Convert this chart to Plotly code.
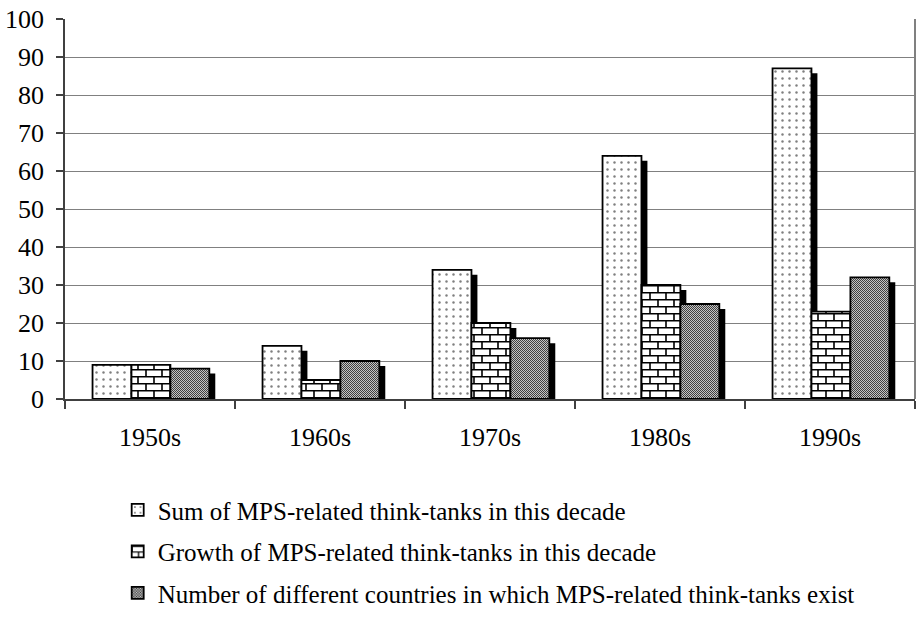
import plotly.graph_objects as go

# Decades on the category axis
decades = ["1950s", "1960s", "1970s", "1980s", "1990s"]

# Series values per decade
sum_tanks = [9, 14, 34, 64, 87]
growth_tanks = [9, 5, 20, 30, 23]
country_count = [8, 10, 16, 25, 32]

series_names = [
    "Sum of MPS-related think-tanks in this decade",
    "Growth of MPS-related think-tanks in this decade",
    "Number of different countries in which MPS-related think-tanks exist",
]
series_values = [sum_tanks, growth_tanks, country_count]

# Bar geometry (category units) and drop-shadow displacement
BAR_W = 0.229
OFFSETS = [-0.338, -0.109, 0.120]
SHADOW_DX = 0.035
SHADOW_DY = 1.3

# Marker colours #010101 / #020202 tag the fills that get custom textures below
PATTERNS = [
    dict(shape=".", fgcolor="#000000", bgcolor="white", size=7, solidity=0.1),
    dict(shape="+", fgcolor="#010101", bgcolor="white", size=8, solidity=0.25),
    dict(shape="x", fgcolor="#020202", bgcolor="white", size=3, solidity=0.5),
]

fig = go.Figure()

# Black drop shadows first so every bar sits above all shadows
for vals, off in zip(series_values, OFFSETS):
    fig.add_trace(go.Bar(
        x=decades, y=vals, base=-SHADOW_DY,
        width=BAR_W, offset=off + SHADOW_DX,
        marker=dict(color="black", line=dict(width=0)),
        showlegend=False, hoverinfo="skip",
    ))

for name, vals, off, pat in zip(series_names, series_values, OFFSETS, PATTERNS):
    fig.add_trace(go.Bar(
        x=decades, y=vals, name=name, legendgroup=name,
        width=BAR_W, offset=off,
        marker=dict(color="white", pattern=pat,
                    line=dict(color="black", width=1.8)),
    ))

axis_dark = "#404040"

fig.update_layout(
    width=919, height=620,
    margin=dict(l=65, r=4, t=19, b=210),
    paper_bgcolor="white", plot_bgcolor="white",
    font=dict(family="Liberation Serif", size=26, color="black"),
    barmode="overlay",
    showlegend=True,
    legend=dict(
        x=0.062, y=-0.232, xanchor="left", yanchor="top",
        traceorder="grouped", tracegroupgap=6,
        font=dict(size=25), bgcolor="rgba(0,0,0,0)",
    ),
    xaxis=dict(
        type="category", range=[-0.5, 4.5],
        tickson="boundaries", ticks="outside", ticklen=8,
        tickcolor=axis_dark, tickwidth=1.5,
        showline=True, linecolor=axis_dark, linewidth=1.5,
        showgrid=False, ticklabelstandoff=14,
    ),
    yaxis=dict(
        range=[0, 100], dtick=10, tick0=0,
        ticks="outside", ticklen=7, tickcolor=axis_dark, tickwidth=1.5,
        showline=True, linecolor=axis_dark, linewidth=1.5,
        gridcolor="#808080", gridwidth=1.3, zeroline=False,
        ticklabelstandoff=7,
    ),
    shapes=[dict(type="line", xref="paper", yref="paper",
                 x0=1, x1=1, y0=0, y1=1,
                 line=dict(color="#808080", width=2))],
)

# Swap the placeholder fills for a staggered brick texture and a soft grey checker
texture_js = r"""
document.querySelectorAll('pattern').forEach(function (p) {
  var html = p.innerHTML;
  if (/rgb\(1, ?1, ?1\)|#010101/i.test(html)) {
    p.setAttribute('width', 16);
    p.setAttribute('height', 14);
    p.innerHTML = '<rect x="0" y="0" width="16" height="14" fill="white"/>' +
      '<path d="M0,0.75H16M0,7.75H16M1,0V7M9,7V14" stroke="black" ' +
      'stroke-width="1.6" fill="none"/>';
  } else if (/rgb\(2, ?2, ?2\)|#020202/i.test(html)) {
    p.setAttribute('width', 2);
    p.setAttribute('height', 2);
    p.innerHTML = '<rect x="0" y="0" width="2" height="2" fill="#c4c4c4"/>' +
      '<rect x="0" y="0" width="1" height="1" fill="#404040"/>' +
      '<rect x="1" y="1" width="1" height="1" fill="#404040"/>';
  }
});
"""

fig.write_html("out.html", post_script=texture_js)
